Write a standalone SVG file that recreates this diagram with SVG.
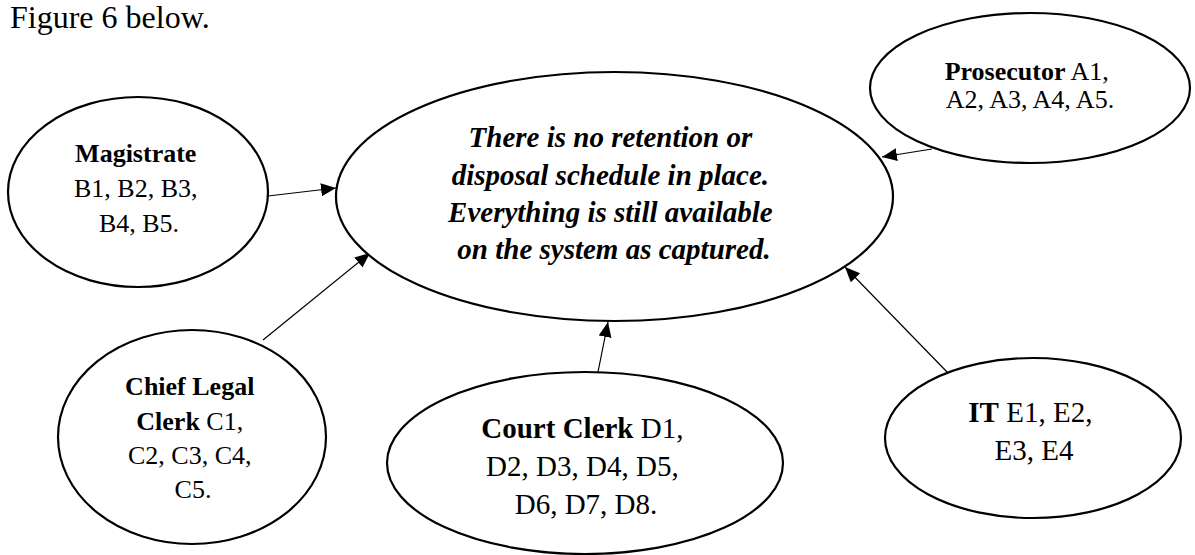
<svg xmlns="http://www.w3.org/2000/svg" width="1195" height="555" viewBox="0 0 1195 555">
  <style>
    .node { fill: #fff; stroke: #000; stroke-width: 2.2; }
    .link { stroke: #000; stroke-width: 1.2; fill: none; marker-end: url(#arrow); }
    text { font-family: "Liberation Serif", "Times New Roman", serif; fill: #000; text-anchor: middle; }
    .s26 { font-size: 26px; }
    .s29 { font-size: 29px; }
    .b { font-weight: bold; }
    .core { font-size: 29px; font-weight: bold; font-style: italic; }
    .caption { font-size: 32px; text-anchor: start; }
  </style>
  <defs>
    <marker id="arrow" markerUnits="userSpaceOnUse" markerWidth="16" markerHeight="14" refX="15" refY="6.5" orient="auto">
      <path d="M0,0 L15,6.5 L0,13 z" fill="#000"/>
    </marker>
  </defs>

  <rect width="1195" height="555" fill="#fff"/>

  <text class="caption" x="10" y="28">Figure 6 below.</text>

  <!-- connectors: each role points at the central finding -->
  <g id="connectors">
    <line class="link" x1="268" y1="196" x2="336" y2="188"/>
    <line class="link" x1="263" y1="340" x2="370" y2="253"/>
    <line class="link" x1="598" y1="372" x2="608" y2="322"/>
    <line class="link" x1="948" y1="373" x2="845" y2="267"/>
    <line class="link" x1="932" y1="149" x2="882" y2="157"/>
  </g>

  <g id="finding">
    <ellipse class="node" cx="614.5" cy="196.5" rx="278.5" ry="124.5"/>
    <text class="core" x="614">
      <tspan x="614" y="147">There is no retention or</tspan>
      <tspan x="614" y="185">disposal schedule in place.</tspan>
      <tspan x="614" y="222">Everything is still available</tspan>
      <tspan x="614" y="259">on the system as captured.</tspan>
    </text>
  </g>

  <g id="magistrate">
    <ellipse class="node" cx="138" cy="192" rx="130" ry="95"/>
    <text class="s26">
      <tspan class="b" x="139" y="162">Magistrate</tspan>
      <tspan x="139" y="197">B1, B2, B3,</tspan>
      <tspan x="139" y="232">B4, B5.</tspan>
    </text>
  </g>

  <g id="prosecutor">
    <ellipse class="node" cx="1030" cy="88" rx="160" ry="75"/>
    <text class="s26">
      <tspan x="1030" y="80"><tspan class="b">Prosecutor</tspan> A1,</tspan>
      <tspan x="1030" y="108">A2, A3, A4, A5.</tspan>
    </text>
  </g>

  <g id="chief-legal-clerk">
    <ellipse class="node" cx="192" cy="437" rx="134" ry="107"/>
    <text class="s26">
      <tspan class="b" x="193" y="395">Chief Legal</tspan>
      <tspan x="193" y="430"><tspan class="b">Clerk</tspan> C1,</tspan>
      <tspan x="193" y="464">C2, C3, C4,</tspan>
      <tspan x="193" y="498">C5.</tspan>
    </text>
  </g>

  <g id="court-clerk">
    <ellipse class="node" cx="585" cy="463" rx="198" ry="91"/>
    <text class="s29">
      <tspan x="586" y="438"><tspan class="b">Court Clerk</tspan> D1,</tspan>
      <tspan x="586" y="476">D2, D3, D4, D5,</tspan>
      <tspan x="586" y="514">D6, D7, D8.</tspan>
    </text>
  </g>

  <g id="it">
    <ellipse class="node" cx="1033" cy="438" rx="148" ry="80"/>
    <text class="s29">
      <tspan x="1034" y="422"><tspan class="b">IT</tspan> E1, E2,</tspan>
      <tspan x="1034" y="460">E3, E4</tspan>
    </text>
  </g>
</svg>
